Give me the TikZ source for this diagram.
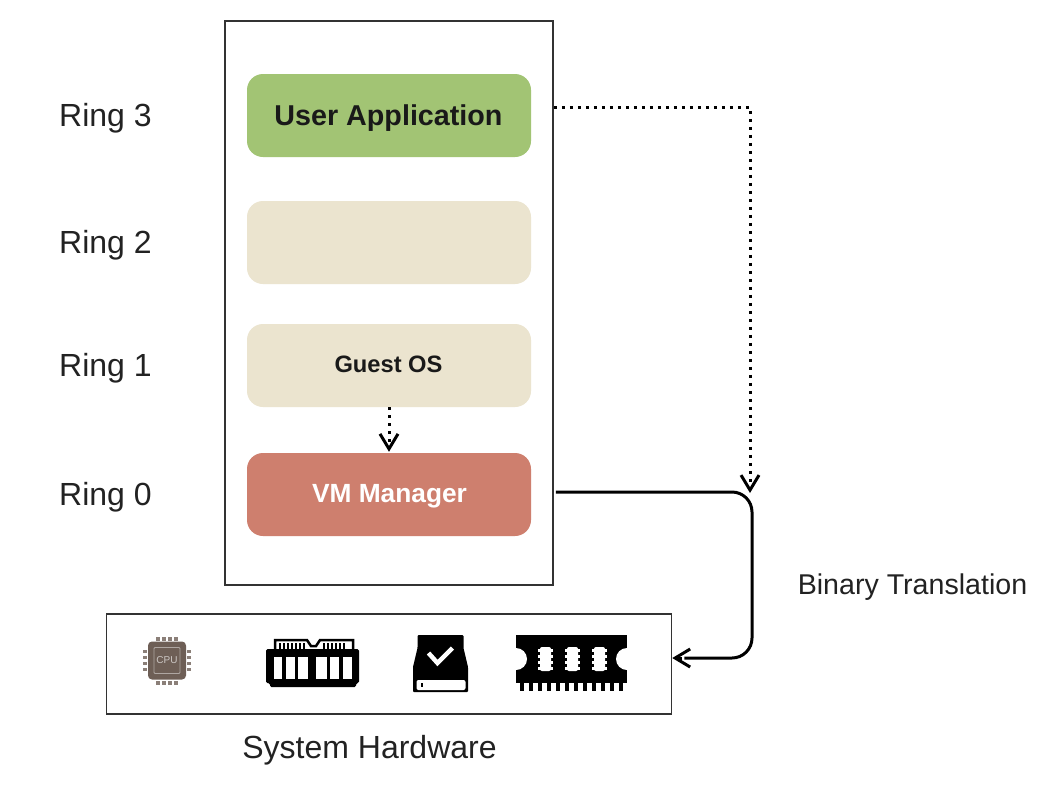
\documentclass[tikz,border=0pt]{standalone}
\usepackage{fontspec}
\setmainfont{Liberation Sans}
\usetikzlibrary{arrows.meta,calc}
\definecolor{greenbox}{HTML}{A2C474}
\definecolor{beigebox}{HTML}{EBE4CF}
\definecolor{redbox}{HTML}{CE7F6E}
\definecolor{linegray}{HTML}{333333}
\definecolor{cpucol}{HTML}{6E5F56}
\definecolor{txt}{HTML}{222222}
\tikzset{
  ringbox/.style={draw=none,rounded corners=16pt,minimum width=284pt,minimum height=83pt,inner sep=0pt},
  boxtext/.style={inner sep=0pt,font=\bfseries,text=black!90},
  frame/.style={draw=linegray,line width=1.5pt,fill=white,inner sep=0pt},
  ringlabel/.style={anchor=west,inner sep=0pt,text=txt,font=\fontsize{32}{36}\selectfont},
  openhead/.style={black,line width=3pt,-{Straight Barb[length=15pt,width=18pt,line width=3pt]}},
  dotline/.style={line width=3pt,dash pattern=on 3pt off 5pt,black},
  solidline/.style={line width=3pt,black,rounded corners=20pt}
}
\begin{document}
\begin{tikzpicture}[x=1pt,y=-1pt]
\useasboundingbox (0,0) rectangle (1060,788);
\fill[white] (0,0) rectangle (1060,788);
\node[frame,minimum width=328pt,minimum height=564pt] (vm) at (389,303) {};
\node[frame,minimum width=565pt,minimum height=100pt] (hw) at (389,664) {};
\node[ringbox,fill=greenbox] (ua) at (389,115.5) {};
\node[ringbox,fill=beigebox] (r2) at (389,242.5) {};
\node[ringbox,fill=beigebox] (gos) at (389,365.5) {};
\node[ringbox,fill=redbox] (vmm) at (389,494.5) {};
\node[boxtext,font=\fontsize{28.7}{32}\selectfont\bfseries] (uat) at (388.5,118) {User Application};
\node[boxtext,font=\fontsize{23.7}{28}\selectfont\bfseries] (gost) at (388.5,364.5) {Guest OS};
\node[boxtext,font=\fontsize{26.3}{30}\selectfont\bfseries,text=white] (vmmt) at (389.5,496) {VM Manager};
\node[ringlabel] (l3) at (59,118) {Ring 3};
\node[ringlabel] (l2) at (59,245) {Ring 2};
\node[ringlabel] (l1) at (59,368) {Ring 1};
\node[ringlabel] (l0) at (59,497) {Ring 0};
\node[anchor=center,inner sep=0pt,text=txt,font=\fontsize{28.6}{34}\selectfont] (bt) at (912.5,587) {Binary Translation};
\node[anchor=center,inner sep=0pt,text=txt,font=\fontsize{32}{36}\selectfont] (sh) at (369.5,750) {System Hardware};
\coordinate (c1) at (750,107);
\coordinate (c2) at (750,493);
\coordinate (d2) at (752,492);
\coordinate (d3) at (752,658);
\coordinate (s1) at (vm.east|-c1);
\coordinate (s2) at ($(vm.east|-d2)+(2,0)$);
\draw[dotline] (gos.south) -- ($(vmm.north)+(0,-10)$);
\draw[openhead] ($(vmm.north)+(0,-6)$) -- ($(vmm.north)+(0,-1)$);
\draw[solidline] (s2) -- (d2) -- (d3) -- ($(hw.east|-d3)+(12,0)$);
\draw[openhead] ($(hw.east|-d3)+(10,0)$) -- ($(hw.east|-d3)+(0,0)$);
\draw[dotline] (s1) -- (c1) -- ($(c2)+(0,-10)$);
\draw[openhead] ($(c2)+(0,-6)$) -- (c2);
% CPU icon
\begin{scope}[shift={(167,660.5)}]
 \foreach \k in {-9,-3,3,9}{
  \fill[cpucol!80] (\k-1.8,-24) rectangle (\k+1.8,-20);
  \fill[cpucol!80] (\k-1.8,20) rectangle (\k+1.8,24);
  \fill[cpucol!80] (-24,\k-1.8) rectangle (-20,\k+1.8);
  \fill[cpucol!80] (20,\k-1.8) rectangle (24,\k+1.8);
 }
 \fill[cpucol,rounded corners=4pt] (-19,-19) rectangle (19,19);
 \draw[white!45!cpucol,line width=.8pt,rounded corners=1pt] (-13,-13) rectangle (13,13);
 \node[inner sep=0pt,text=white!65!cpucol,font=\fontsize{10}{10}\selectfont] (cpu) at (0,0) {CPU};
\end{scope}
% DIMM icon
\begin{scope}[shift={(313,661)}]
 \draw[black,line width=2.5pt,fill=white] (-38,-12) -- (-38,-21) -- (-6,-21) -- (-2,-15) -- (3,-15) -- (7,-21) -- (40,-21) -- (40,-12);
 \foreach \k in {-33,-29,-25,-21,-17,-13,-9,11,15,19,23,27,31}{\draw[black,line width=1.2pt] (\k,-18) -- (\k,-12);}
 \fill[black,rounded corners=1.5pt] (-47,-12) -- (46,-12) -- (46,22) -- (43,22) -- (43,26) -- (-43,26) -- (-43,22) -- (-47,22) -- cycle;
 \foreach \a/\b in {-39/-31,-27/-18,-15/-5,3/14,17/26,30/39}{\fill[white] (\a,-4) rectangle (\b,18);}
\end{scope}
% drive icon
\begin{scope}[shift={(440.5,664)}]
 \fill[black,rounded corners=1pt] (-23,-29) -- (23,-29) -- (23,-16) -- (27.5,3) -- (27.5,28) -- (-27.5,28) -- (-27.5,3) -- (-23,-16) -- cycle;
 \draw[white,line width=4.5pt] (-12,-11) -- (-3,-1) -- (12,-16);
 \fill[white,rounded corners=2pt] (-24,16) rectangle (25,26);
 \fill[black] (-20,19) rectangle (-18,23);
\end{scope}
% RAM icon
\begin{scope}[shift={(571.5,661)}]
 \fill[black] (-55.5,-26) rectangle (55.5,22);
 \fill[white] (-55.5,-2) circle[radius=11pt];
 \fill[white] (55.5,-2) circle[radius=11pt];
 \foreach \k in {-49.5,-40.5,...,50}{\fill[black] (\k-2.4,21) rectangle (\k+2.4,30);}
 \foreach \k in {-26,1,28}{
  \fill[white,rounded corners=2pt] (\k-5.5,-14) rectangle (\k+5.5,10);
  \foreach \j in {-12,-6,0,6}{
   \fill[white] (\k-7.5,\j) rectangle (\k+7.5,\j+2.5);
  }
 }
\end{scope}
\end{tikzpicture}
\end{document}
